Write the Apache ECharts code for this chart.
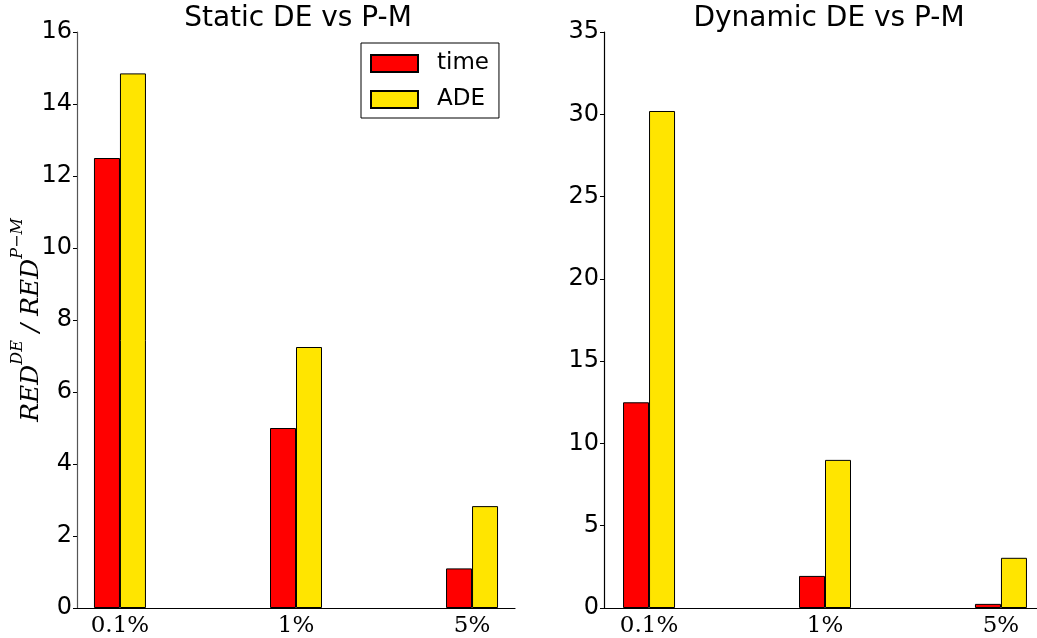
<!DOCTYPE html>
<html><head><meta charset="utf-8">
<script src="https://cdn.jsdelivr.net/npm/echarts@6/dist/echarts.min.js"></script>
<style>html,body{margin:0;padding:0;background:#fff}#c{width:1037px;height:638px}</style>
</head><body><div id="c"></div>
<script>
const categories = ['0.1%', '1%', '5%'];
const seriesNames = ['time', 'ADE'];
const staticTime = [12.5, 5.0, 1.1];
const staticADE = [14.85, 7.25, 2.83];
const dynamicTime = [12.5, 1.95, 0.25];
const dynamicADE = [30.2, 9.0, 3.05];
const titles = ['Static DE vs P-M', 'Dynamic DE vs P-M'];

const RED = '#ff0000', YEL = '#ffe500';
const SANS = 'DejaVu Sans';
const SERIF = 'DejaVu Serif';
const toPts = arr => arr.map((v, i) => [i, v]);

const chart = echarts.init(document.getElementById('c'), null, {renderer: 'canvas'});

function xAx(gi, min, max) {
  return {
    type: 'value', gridIndex: gi, min: min, max: max,
    axisLine: {show: true, onZero: false, lineStyle: {color: '#000', width: 1.2}},
    axisTick: {show: false},
    splitLine: {show: false},
    axisLabel: {
      customValues: [0, 1, 2],
      formatter: v => categories[Math.round(v)],
      fontFamily: SERIF, fontSize: 23, color: '#000', margin: 7
    }
  };
}
function yAx(gi, max, interval, lineColor) {
  return {
    type: 'value', gridIndex: gi, min: 0, max: max, interval: interval,
    axisLine: {show: true, onZero: false, lineStyle: {color: lineColor, width: 1.2}},
    axisTick: {show: true, length: 4, lineStyle: {color: '#000'}},
    splitLine: {show: false},
    axisLabel: {fontFamily: SANS, fontSize: 24, color: '#000', margin: 5}
  };
}
function barSeries(name, data, xi, color) {
  return {
    type: 'bar', name: name, xAxisIndex: xi, yAxisIndex: xi,
    data: toPts(data), barWidth: 26, barGap: '0%',
    itemStyle: {color: color, borderColor: '#000', borderWidth: 1},
    emphasis: {disabled: true}, animation: false
  };
}

chart.setOption({
  animation: false,
  backgroundColor: '#fff',
  title: [
    {text: titles[0], left: 293, top: 0, textAlign: 'center',
     textStyle: {fontFamily: SANS, fontSize: 28, fontWeight: 'normal', color: '#000'}},
    {text: titles[1], left: 824, top: 0, textAlign: 'center',
     textStyle: {fontFamily: SANS, fontSize: 28, fontWeight: 'normal', color: '#000'}}
  ],
  legend: {
    data: seriesNames, orient: 'vertical', left: 361, top: 43,
    icon: 'rect', itemWidth: 47, itemHeight: 17, itemGap: 13,
    padding: [9, 10, 7, 9],
    borderColor: '#000', borderWidth: 1, borderRadius: 0,
    textStyle: {fontFamily: SANS, fontSize: 23, color: '#000', padding: [0, 0, 0, 14]},
    selectedMode: false
  },
  grid: [
    {left: 77, width: 438, top: 32, bottom: 30, outerBoundsMode: 'none', containLabel: false},
    {left: 604, width: 442, top: 32, bottom: 30, outerBoundsMode: 'none', containLabel: false}
  ],
  xAxis: [xAx(0, -0.244, 2.244), xAx(1, -0.256, 2.256)],
  yAxis: [
    Object.assign(yAx(0, 16, 2, '#555'), {
      name: '{i|RED}{s|DE}{i| / RED}{s|P\u2212M}',
      nameLocation: 'middle', nameGap: 33, nameRotate: 90, nameMoveOverlap: false,
      nameTextStyle: {
        rich: {
          i: {fontFamily: SERIF, fontStyle: 'italic', fontSize: 25, color: '#000', lineHeight: 34, verticalAlign: 'bottom'},
          s: {fontFamily: SERIF, fontStyle: 'italic', fontSize: 16, color: '#000', lineHeight: 34, verticalAlign: 'top'}
        }
      }
    }),
    yAx(1, 35, 5, '#000')
  ],
  series: [
    barSeries(seriesNames[0], staticTime, 0, RED),
    barSeries(seriesNames[1], staticADE, 0, YEL),
    barSeries(seriesNames[0], dynamicTime, 1, RED),
    barSeries(seriesNames[1], dynamicADE, 1, YEL)
  ]
});
</script></body></html>
